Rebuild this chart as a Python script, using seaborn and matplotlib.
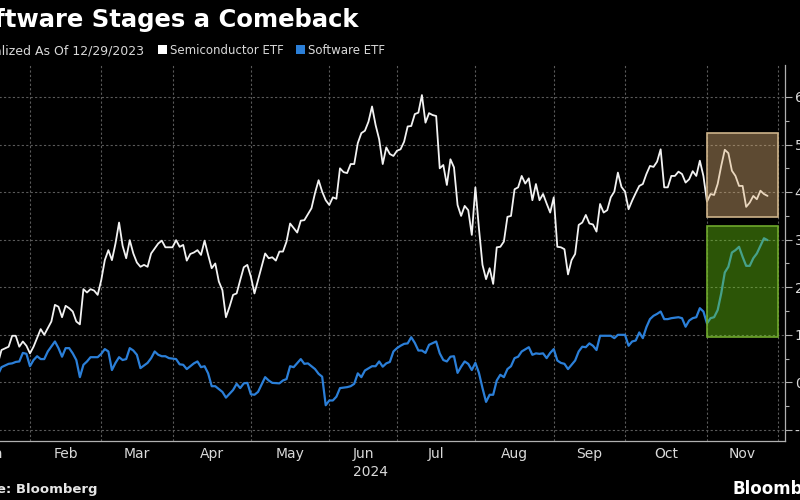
import matplotlib
matplotlib.use('Agg')
import matplotlib.pyplot as plt
from matplotlib.patches import Rectangle
from matplotlib.ticker import FixedLocator, NullFormatter, FixedFormatter
import seaborn as sns

# x = trading sessions since 12/29/2023 (0 = Dec 29), y = % change
semi_session = [13, 14, 16, 17, 18, 19, 20, 21, 22, 23, 25, 26, 28, 29, 30, 31, 32, 33, 34, 35,
                36, 37, 38, 39, 40, 41, 42, 43, 44, 45, 46, 47, 48, 49, 50, 51, 52, 53, 54, 55,
                56, 58, 59, 60, 62, 63, 64, 65, 66, 67, 68, 69, 70, 71, 72, 73, 74, 75, 76, 77,
                78, 79, 80, 81, 82, 83, 84, 85, 86, 88, 89, 90, 91, 92, 93, 94, 95, 97, 98, 99,
                101, 102, 103, 104, 105, 106, 107, 108, 109, 110, 111, 112, 113, 114, 115, 116,
                117, 118, 119, 120, 121, 122, 123, 124, 125, 126, 127, 128, 129, 130, 131, 132,
                133, 134, 135, 136, 137, 138, 139, 140, 141, 142, 143, 144, 145, 146, 147, 148,
                149, 150, 151, 152, 153, 154, 155, 156, 157, 158, 159, 160, 161, 162, 163, 164,
                165, 166, 167, 168, 169, 170, 171, 172, 173, 174, 175, 176, 177, 178, 179, 180,
                181, 182, 183, 184, 185, 186, 187, 188, 189, 190, 191, 192, 193, 194, 195, 196,
                197, 198, 199, 200, 201, 202, 203, 204, 205, 206, 207, 208, 209, 210, 211, 212,
                213, 214, 215, 216, 217, 218, 219, 220, 221, 222, 223, 224, 225, 226, 227, 228, 229]
semi_pct = [4.0, 6.8, 7.5, 9.8, 9.8, 7.5, 8.6, 7.7, 6.1, 7.5, 11.2, 10.0, 12.8, 16.3, 15.9, 13.7, 16.1, 15.6, 14.9, 12.8,
            12.2, 19.6, 18.9, 19.6, 19.3, 18.4, 21.5, 25.7, 27.8, 25.7, 29.2, 33.6, 28.7, 26.1, 29.9, 27.1, 25.2, 24.3, 24.7, 24.3,
            27.1, 29.2, 29.8, 28.4, 28.4, 29.9, 28.5, 28.9, 25.6, 27.0, 27.3, 27.8, 26.8, 29.8, 26.8, 24.0, 25.0, 21.2, 19.4, 13.7,
            15.9, 18.4, 18.7, 21.5, 24.2, 24.7, 22.2, 18.7, 21.5, 27.1, 26.1, 26.3, 25.6, 27.5, 27.5, 29.6, 33.4, 31.5, 34.0, 34.1,
            36.6, 39.8, 42.5, 40.1, 38.3, 37.3, 38.9, 38.6, 45.0, 44.2, 44.0, 45.9, 45.9, 50.3, 52.4, 52.9,
            54.8, 58.0, 54.1, 51.1, 45.9, 49.4, 48.0, 47.6, 48.7, 49.0, 50.6, 53.8, 53.9, 56.4, 56.7, 60.4,
            54.6, 56.6, 56.2, 56.0, 45.0, 45.7, 41.5, 46.9, 45.2, 37.3, 35.0, 37.1, 36.2, 31.0, 41.0, 32.4,
            24.7, 21.7, 24.0, 20.7, 28.4, 28.5, 29.6, 34.8, 35.0, 40.6, 41.0, 43.4, 41.8, 42.9, 38.3, 41.7,
            38.3, 39.6, 37.6, 35.7, 38.9, 28.5, 28.4, 28.0, 22.7, 25.7, 27.0, 33.1, 33.6, 35.2, 33.4, 33.2,
            31.7, 37.5, 35.7, 36.2, 38.9, 40.1, 44.1, 41.1, 40.1, 36.4, 38.2, 39.8, 41.3, 41.7, 43.8, 45.5,
            45.3, 46.4, 49.0, 41.0, 41.0, 43.4, 43.4, 44.3, 43.8, 42.0, 42.7, 44.4, 43.4, 46.6, 43.4, 38.0,
            39.6, 39.4, 41.7, 45.5, 48.9, 48.2, 44.5, 43.4, 41.3, 41.3, 36.9, 37.8, 39.2, 38.5, 40.3, 39.6, 39.2]

soft_session = [13, 14, 16, 17, 18, 19, 20, 21, 22, 23, 24, 25, 26, 27, 29, 30, 31, 32, 33, 34,
                35, 36, 37, 38, 39, 41, 42, 43, 44, 45, 46, 47, 48, 49, 50, 51, 52, 53, 55, 56,
                57, 58, 59, 60, 61, 63, 64, 65, 66, 67, 68, 69, 70, 71, 72, 73, 74, 76, 77, 79,
                80, 81, 82, 83, 84, 85, 86, 88, 89, 90, 92, 93, 94, 95, 96, 98, 99, 100, 102, 103,
                104, 105, 106, 107, 108, 109, 111, 112, 113, 114, 115, 116, 118, 119, 120, 121,
                122, 123, 124, 125, 126, 127, 128, 129, 130, 131, 132, 133, 134, 136, 137, 138,
                139, 140, 141, 142, 143, 144, 145, 146, 147, 148, 149, 150, 151, 152, 153, 154,
                155, 156, 157, 158, 159, 160, 162, 163, 164, 165, 166, 167, 168, 169, 170, 171,
                172, 173, 175, 176, 177, 178, 179, 180, 181, 182, 183, 185, 186, 187, 189, 190,
                191, 192, 193, 194, 195, 196, 197, 198, 199, 200, 201, 202, 204, 205, 206, 207,
                208, 209, 210, 211, 212, 213, 214, 215, 216, 217, 218, 219, 220, 221, 222, 223,
                224, 225, 226, 227, 228, 229]
soft_pct = [1.6, 3.2, 3.9, 4.0, 4.3, 4.4, 6.2, 6.0, 3.4, 4.7, 5.5, 4.9, 4.9, 6.5, 8.6, 7.2, 5.4, 7.2, 7.2, 6.1,
            4.7, 1.1, 3.7, 4.4, 5.3, 5.3, 6.0, 7.0, 6.5, 2.6, 4.1, 5.3, 4.7, 4.9, 7.2, 6.7, 5.8, 3.0, 4.1, 5.1,
            6.5, 5.8, 5.5, 5.5, 5.1, 4.9, 3.8, 3.7, 2.8, 3.4, 4.0, 4.4, 3.2, 3.4, 1.9, -0.8, -0.8, -2.0, -3.2, -1.6,
            -0.3, -1.2, -0.2, -0.1, -2.5, -2.6, -2.0, 1.1, 0.4, -0.1, -0.2, 0.4, 0.7, 3.4, 3.2, 4.9, 3.9, 4.0, 2.8, 1.8,
            1.2, -4.8, -3.8, -3.8, -3.0, -1.2, -1.0, -0.8, -0.3, 1.9, 1.1, 2.5, 3.4, 3.4, 4.4, 3.3,
            4.0, 4.3, 6.5, 7.2, 7.7, 8.1, 8.2, 9.5, 8.3, 6.7, 6.7, 6.2, 7.9, 8.6, 6.1, 4.7,
            4.4, 5.4, 5.5, 2.0, 3.3, 4.4, 3.9, 2.6, 4.1, 2.0, -1.2, -4.1, -2.6, -2.6, 0.4, 1.6,
            1.1, 2.8, 3.4, 5.1, 5.4, 6.5, 7.4, 5.8, 6.1, 6.0, 6.1, 5.1, 6.2, 7.0, 4.6, 4.1,
            3.9, 2.8, 4.6, 6.5, 7.5, 7.4, 8.2, 7.7, 6.8, 9.8, 9.8, 9.8, 9.3, 10.0, 10.0, 7.7,
            8.6, 8.8, 10.5, 9.3, 11.6, 13.3, 14.0, 14.4, 14.9, 13.3, 13.3, 13.5, 13.7, 13.5, 11.7, 13.0,
            13.5, 13.7, 15.6, 14.9, 12.4, 13.5, 13.7, 15.2, 18.7, 23.1, 24.3, 27.3, 27.8, 28.5, 26.4, 24.5,
            24.5, 26.1, 27.1, 28.7, 30.3, 29.9]

month_names = ['Jan', 'Feb', 'Mar', 'Apr', 'May', 'Jun', 'Jul', 'Aug', 'Sep', 'Oct', 'Nov']
month_start = [1, 22, 42, 62, 84, 106, 125, 147, 169, 189, 212, 232]
y_ticks = [-10, 0, 10, 20, 30, 40, 50, 60]

# highlighted window (sessions) and value ranges
box_sessions = (212, 232)
semi_box = (34.8, 52.4)
soft_box = (9.5, 32.9)

W, H = 800, 500
sns.set_theme(style='dark')
plt.rcParams['font.family'] = ['DejaVu Sans']

fig = plt.figure(figsize=(8, 5), dpi=100, facecolor='black')
# the original picture is cropped on the left, so the axes start outside the figure
ax = fig.add_axes([-48.4 / W, 59 / H, 833.4 / W, 376 / H])
ax.set_facecolor('black')

sns.lineplot(x=semi_session, y=semi_pct, ax=ax, color='#f2f2f2', linewidth=1.3, zorder=2)
sns.lineplot(x=soft_session, y=soft_pct, ax=ax, color='#2b7fd8', linewidth=1.6, zorder=2)

ax.add_patch(Rectangle((box_sessions[0], semi_box[0]), box_sessions[1] - box_sessions[0],
                       semi_box[1] - semi_box[0], facecolor=(0.88, 0.70, 0.47, 0.42),
                       edgecolor='#cdb38a', linewidth=1.2, zorder=3))
ax.add_patch(Rectangle((box_sessions[0], soft_box[0]), box_sessions[1] - box_sessions[0],
                       soft_box[1] - soft_box[0], facecolor=(0.44, 0.84, 0.08, 0.40),
                       edgecolor='#6fa82c', linewidth=1.2, zorder=3))

ax.set_xlim(0, 233.9)
ax.set_ylim(-12.32, 66.72)

# x axis: month boundaries as ticks/grid, month names in between
ax.xaxis.set_major_locator(FixedLocator(month_start))
ax.xaxis.set_major_formatter(NullFormatter())
mids = [(a + b) / 2 for a, b in zip(month_start[:-1], month_start[1:])]
ax.xaxis.set_minor_locator(FixedLocator(mids))
ax.xaxis.set_minor_formatter(FixedFormatter(month_names))
ax.tick_params(axis='x', which='major', length=4, width=0.8, color='#b0b0b0', direction='out')
ax.tick_params(axis='x', which='minor', length=0, pad=4, labelsize=10, labelcolor='#d9d9d9')
ax.text(117.5, -0.093, '2024', transform=ax.get_xaxis_transform(), ha='center',
        va='baseline', fontsize=10, color='#d9d9d9')

# y axis on the right
ax.yaxis.tick_right()
ax.yaxis.set_major_locator(FixedLocator(y_ticks))
ax.set_yticklabels([f'{t}%' for t in y_ticks])
ax.yaxis.set_minor_locator(FixedLocator([t + 5 for t in y_ticks[:-1]] + [-15]))
ax.tick_params(axis='y', which='major', length=5, width=0.8, color='#b0b0b0', pad=2,
               labelsize=10, labelcolor='#d9d9d9')
ax.tick_params(axis='y', which='minor', length=3, width=0.8, color='#b0b0b0')
ax.set_xlabel('')
ax.set_ylabel('')

ax.grid(True, which='major', color='#5a5a5a', linestyle=(0, (2, 2)), linewidth=0.8)
ax.grid(False, which='minor')
ax.set_axisbelow(True)
for side in ['top', 'left']:
    ax.spines[side].set_visible(False)
for side in ['bottom', 'right']:
    ax.spines[side].set_visible(True)
    ax.spines[side].set_color('#b0b0b0')
    ax.spines[side].set_linewidth(0.9)

# header and footer (cut on the left like the reference)
fig.text(358 / W, 1 - 27 / H, 'Software Stages a Comeback', ha='right', va='baseline',
         fontsize=17.5, fontweight='bold', color='white')
fig.text(144 / W, 1 - 54 / H, 'Normalized As Of 12/29/2023', ha='right', va='baseline',
         fontsize=9, color='#d9d9d9')
fig.add_artist(Rectangle((158 / W, 1 - 54 / H), 9 / W, 9 / H, transform=fig.transFigure,
                         facecolor='white', edgecolor='none'))
fig.text(170 / W, 1 - 54 / H, 'Semiconductor ETF', ha='left', va='baseline',
         fontsize=8.5, color='#d9d9d9')
fig.add_artist(Rectangle((296 / W, 1 - 54 / H), 9 / W, 9 / H, transform=fig.transFigure,
                         facecolor='#2b7fd8', edgecolor='none'))
fig.text(308 / W, 1 - 54 / H, 'Software ETF', ha='left', va='baseline',
         fontsize=8.5, color='#d9d9d9')
fig.text(97 / W, 1 - 493 / H, 'Source: Bloomberg', ha='right', va='baseline',
         fontsize=9.5, fontweight='bold', color='#e6e6e6')
fig.text(732 / W, 1 - 494 / H, 'Bloomberg', ha='left', va='baseline',
         fontsize=12, fontweight='bold', color='white')

fig.savefig('out.png', dpi=100, facecolor='black')
